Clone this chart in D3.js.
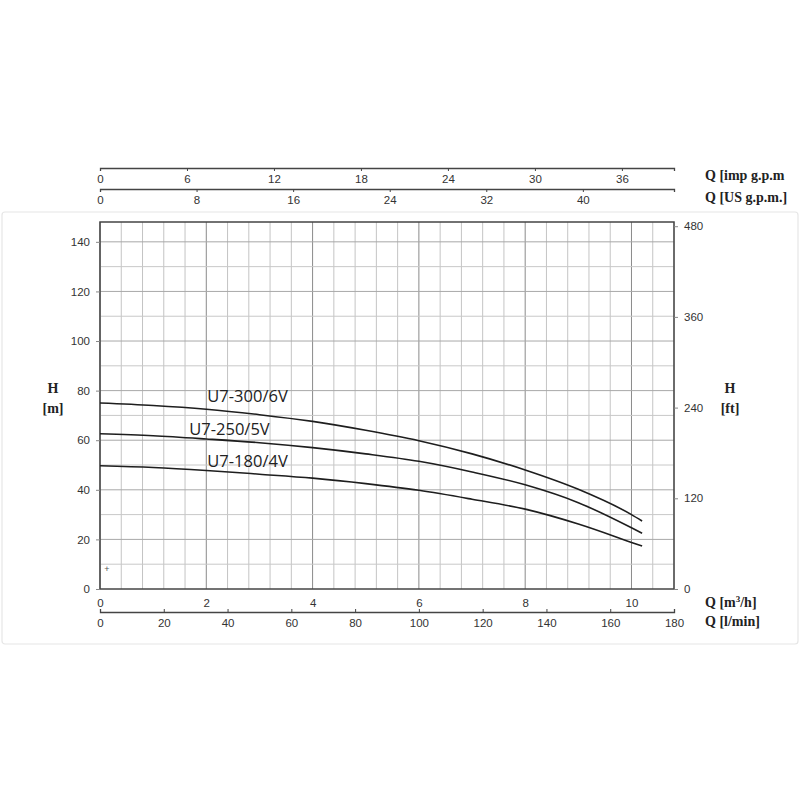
<!DOCTYPE html>
<html>
<head>
<meta charset="utf-8">
<script src="https://cdn.jsdelivr.net/npm/d3@7/dist/d3.min.js"></script>
<style>
  html, body { margin: 0; padding: 0; background: #ffffff; }
  svg { display: block; }
  .tick text { font-family: "Liberation Sans", Arial, sans-serif; font-size: 11.5px; fill: #333; }
  .ttl { font-family: "Liberation Serif", "Times New Roman", serif; font-size: 14px; font-weight: bold; fill: #222; }
  .clabel { font-family: "Open Sans", sans-serif; font-size: 16.5px; fill: #222; }
</style>
</head>
<body>
<script>
// ---- data ----
const flowQ = [0, 1, 2, 3, 4, 5, 6, 7, 8, 9, 10, 10.2];          // m3/h
const headU7_300 = [75, 74, 72.5, 70.3, 67.6, 64, 59.8, 54.5, 48, 40.2, 30, 27.4];
const headU7_250 = [62.6, 61.8, 60.5, 59, 57, 54.5, 51.5, 47.2, 42, 34.8, 24.7, 22.5];
const headU7_180 = [49.7, 49, 47.8, 46.3, 44.7, 42.5, 39.8, 36.2, 32.2, 26.2, 18.8, 17.3];
const seriesNames = ["U7-300/6V", "U7-250/5V", "U7-180/4V"];
const yTicksM = [0, 20, 40, 60, 80, 100, 120, 140];
const yTicksFt = [0, 120, 240, 360, 480];
const xTicksM3h = [0, 2, 4, 6, 8, 10];
const xTicksLmin = [0, 20, 40, 60, 80, 100, 120, 140, 160, 180];
const xTicksImp = [0, 6, 12, 18, 24, 30, 36];
const xTicksUS = [0, 8, 16, 24, 32, 40];

const W = 800, H = 800;
const svg = d3.select("body").append("svg").attr("width", W).attr("height", H);

// panel
svg.append("rect").attr("x", 2).attr("y", 212).attr("width", 796).attr("height", 432)
  .attr("rx", 3).attr("fill", "#fff").attr("stroke", "#e6e6e6").attr("stroke-width", 1.2);

const qMax = 10.8, hMax = 148;
const x = d3.scaleLinear().domain([0, qMax]).range([100, 674]);
const y = d3.scaleLinear().domain([0, hMax]).range([589, 222]);
const yFt = d3.scaleLinear().domain([0, hMax * 3.28084]).range([589, 222]);
const xL = d3.scaleLinear().domain([0, qMax * 1000 / 60]).range([100, 674]);
const xImp = d3.scaleLinear().domain([0, qMax * 3.66615]).range([100, 674]);
const xUS = d3.scaleLinear().domain([0, qMax * 4.40287]).range([100, 674]);

// grid
const g = svg.append("g");
const vMinor = d3.range(0, qMax + 0.001, 0.4).map(v => +v.toFixed(2));
g.selectAll("line.vg").data(vMinor).join("line")
  .attr("x1", d => x(d)).attr("x2", d => x(d)).attr("y1", y(hMax)).attr("y2", y(0))
  .attr("stroke", d => (Math.abs(d / 2 - Math.round(d / 2)) < 1e-6) ? "#8a8a8a" : "#c4c4c4")
  .attr("stroke-width", 1);
const hLines = d3.range(10, hMax, 10);
g.selectAll("line.hg").data(hLines).join("line")
  .attr("x1", x(0)).attr("x2", x(qMax)).attr("y1", d => y(d)).attr("y2", d => y(d))
  .attr("stroke", d => d % 20 === 0 ? "#a8a8a8" : "#c8c8c8").attr("stroke-width", 1);

// frame
svg.append("rect").attr("x", x(0)).attr("y", y(hMax)).attr("width", x(qMax) - x(0))
  .attr("height", y(0) - y(hMax)).attr("fill", "none").attr("stroke", "#444").attr("stroke-width", 1.5);

function styleAxis(sel, color) {
  sel.selectAll("path.domain").attr("stroke", color || "#555").attr("stroke-width", 1.3);
  sel.selectAll(".tick line").attr("stroke", color || "#555");
  sel.selectAll(".tick text").attr("font-family", null).attr("font-size", null).attr("fill", null);
  sel.attr("font-family", null).attr("font-size", null);
}

// left axis
const la = svg.append("g").attr("transform", `translate(${x(0)},0)`)
  .call(d3.axisLeft(y).tickValues(yTicksM).tickSize(4).tickPadding(6));
la.select(".domain").remove();
styleAxis(la, "#888");

// right axis
const ra = svg.append("g").attr("transform", `translate(${x(qMax)},0)`)
  .call(d3.axisRight(yFt).tickValues(yTicksFt).tickSize(4).tickPadding(6));
ra.select(".domain").remove();
styleAxis(ra, "#888");

// bottom m3/h
const ba = svg.append("g").attr("transform", `translate(0,${y(0)})`)
  .call(d3.axisBottom(x).tickValues(xTicksM3h).tickSize(0).tickPadding(10));
ba.select(".domain").remove();
styleAxis(ba);

// bottom l/min
const bl = svg.append("g").attr("transform", `translate(0,612)`)
  .call(d3.axisBottom(xL).tickValues(xTicksLmin).tickSizeInner(-3).tickSizeOuter(-3).tickPadding(7));
styleAxis(bl, "#444");

// top imp gpm
const ti = svg.append("g").attr("transform", `translate(0,168)`)
  .call(d3.axisBottom(xImp).tickValues(xTicksImp).tickSizeInner(3).tickSizeOuter(3).tickPadding(4));
styleAxis(ti, "#444");

// top US gpm
const tu = svg.append("g").attr("transform", `translate(0,189)`)
  .call(d3.axisBottom(xUS).tickValues(xTicksUS).tickSizeInner(3).tickSizeOuter(3).tickPadding(4));
styleAxis(tu, "#444");

// curves
const curves = [headU7_300, headU7_250, headU7_180];
const line = d3.line().x(d => x(d[0])).y(d => y(d[1])).curve(d3.curveMonotoneX);
svg.append("g").selectAll("path.c").data(curves).join("path")
  .attr("d", hs => line(flowQ.map((q, i) => [q, hs[i]])))
  .attr("fill", "none").attr("stroke", "#1e1e1e").attr("stroke-width", 1.6);

// curve labels
const labelAt = [[2.02, 75.6], [1.68, 62.1], [2.02, 49.1]];
svg.append("g").selectAll("text").data(seriesNames).join("text")
  .attr("class", "clabel")
  .attr("x", (d, i) => x(labelAt[i][0])).attr("y", (d, i) => y(labelAt[i][1]))
  .text(d => d);

// small plus marker
svg.append("text").attr("x", x(0.13)).attr("y", y(8)).attr("text-anchor", "middle")
  .attr("dominant-baseline", "middle").attr("font-family", "Liberation Sans, sans-serif")
  .attr("font-size", 9).attr("fill", "#555").text("+");

// axis titles
const T = svg.append("g");
T.append("text").attr("class", "ttl").attr("x", 53).attr("y", 393).attr("text-anchor", "middle").text("H");
T.append("text").attr("class", "ttl").attr("x", 53).attr("y", 413).attr("text-anchor", "middle").text("[m]");
T.append("text").attr("class", "ttl").attr("x", 730).attr("y", 393).attr("text-anchor", "middle").text("H");
T.append("text").attr("class", "ttl").attr("x", 730).attr("y", 413).attr("text-anchor", "middle").text("[ft]");
const q1 = T.append("text").attr("class", "ttl").attr("x", 705).attr("y", 607);
q1.append("tspan").text("Q [m");
q1.append("tspan").attr("font-size", 9).attr("dy", -5).text("3");
q1.append("tspan").attr("dy", 5).text("/h]");
T.append("text").attr("class", "ttl").attr("x", 705).attr("y", 626).text("Q [l/min]");
T.append("text").attr("class", "ttl").attr("x", 705).attr("y", 180).text("Q [imp g.p.m");
T.append("text").attr("class", "ttl").attr("x", 705).attr("y", 202).text("Q [US g.p.m.]");
</script>
</body>
</html>
